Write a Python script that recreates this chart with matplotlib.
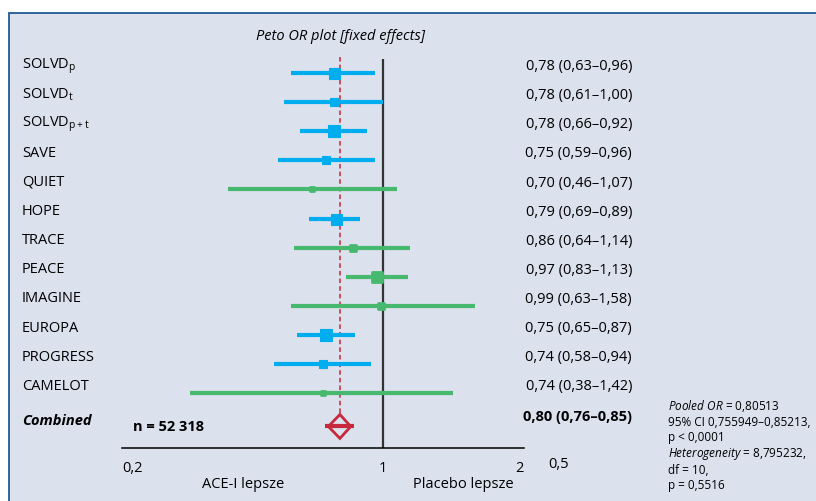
import matplotlib
matplotlib.use("Agg")
import matplotlib.pyplot as plt
import matplotlib.transforms as mtransforms
from matplotlib.patches import Rectangle, Polygon
from matplotlib.markers import MarkerStyle

# study data
studies = ["SOLVD$_{\\mathrm{p}}$", "SOLVD$_{\\mathrm{t}}$", "SOLVD$_{\\mathrm{p+t}}$", "SAVE",
           "QUIET", "HOPE", "TRACE", "PEACE", "IMAGINE", "EUROPA", "PROGRESS", "CAMELOT"]
odds_ratio = [0.78, 0.78, 0.78, 0.75, 0.70, 0.79, 0.86, 0.97, 0.99, 0.75, 0.74, 0.74]
ci_low = [0.63, 0.61, 0.66, 0.59, 0.46, 0.69, 0.64, 0.83, 0.63, 0.65, 0.58, 0.38]
ci_high = [0.96, 1.00, 0.92, 0.96, 1.07, 0.89, 1.14, 1.13, 1.58, 0.87, 0.94, 1.42]
study_group = ["blue", "blue", "blue", "blue", "green", "blue", "green", "green",
               "green", "blue", "blue", "green"]

pooled_or = 0.80513
pooled_shown = 0.80
pooled_low = 0.76
pooled_high = 0.85
n_total = "52 318"

tick_labels = ["0,2", "1", "2"]
stats_lines = ["$\\mathit{Pooled\\ OR}$ = 0,80513",
               "95% CI 0,755949–0,85213,",
               "p < 0,0001",
               "$\\mathit{Heterogeneity}$ = 8,795232,",
               "df = 10,",
               "p = 0,5516"]

# styles
COLORS = {"blue": "#00aeef", "green": "#46b96e"}
RED = "#c8283c"
BG = "#dce1ee"
marker_px = [11, 8, 12, 8, 7, 11, 8, 12, 8, 12, 8, 7]

plt.rcParams["font.family"] = ["Open Sans", "DejaVu Sans"]
plt.rcParams["mathtext.fontset"] = "custom"
plt.rcParams["mathtext.rm"] = "Open Sans"
plt.rcParams["mathtext.it"] = "Open Sans:italic"
plt.rcParams["mathtext.bf"] = "Open Sans:bold"

W, H = 816, 501
fig = plt.figure(figsize=(W / 100, H / 100), dpi=100, facecolor="white")

# panel background with border on top/left
fig.patches.append(Rectangle((9 / W, -0.1), 1.2, (H - 13) / H + 0.1, transform=fig.transFigure,
                             facecolor=BG, edgecolor="#1f5a96", lw=1.3, zorder=-5))

ax = fig.add_axes([122 / W, 1 - 448 / H, 402 / W, 389 / H])
ax.set_zorder(2)
ax.patch.set_visible(False)
ax.set_xscale("log")
x_left, x_right = 0.271, 2.02
ax.set_xlim(x_left, x_right)
combined_row = 12.14
ax.set_ylim(12.88, -0.48)

for sp in ["top", "right", "left"]:
    ax.spines[sp].set_visible(False)
ax.spines["bottom"].set_linewidth(1.1)
ax.set_yticks([])
ax.set_xticks([x_left, 1, 1.97])
ax.set_xticks([], minor=True)
ax.set_xticklabels(tick_labels, fontsize=10.5)
ax.get_xticklabels()[0].set_horizontalalignment("left")
ax.tick_params(axis="x", length=0, pad=9)

# reference line at 1 and pooled dashed line
ax.axvline(1, color="#333333", lw=1.6, zorder=2)
ax.plot([pooled_or, pooled_or], [-0.55, combined_row - 0.42], color=RED, lw=1.1,
        ls=(0, (3, 2)), zorder=2, clip_on=False)

trans = mtransforms.blended_transform_factory(fig.transFigure, ax.transData)

for i, name in enumerate(studies):
    c = COLORS[study_group[i]]
    ax.plot([ci_low[i], ci_high[i]], [i, i], color=c, lw=3, solid_capstyle="butt", zorder=3)
    if study_group[i] == "green":
        # green trials have slightly rounded markers
        ax.plot(odds_ratio[i], i, marker=MarkerStyle("s", joinstyle="round"),
                ms=(marker_px[i] - 2) * 0.72, color=c, mec=c, mew=2, zorder=4)
    else:
        ax.plot(odds_ratio[i], i, marker="s", ms=marker_px[i] * 0.72, color=c,
                mec=c, mew=0.8, zorder=4)
    ax.text(22 / W, i - 0.24, name, transform=trans, fontsize=10.5, va="center", ha="left")
    label = f"{odds_ratio[i]:.2f} ({ci_low[i]:.2f}–{ci_high[i]:.2f})".replace(".", ",")
    ax.text(632 / W, i - 0.22, label, transform=trans, fontsize=10.5, va="center", ha="right")

# combined diamond
ax.plot([pooled_low * 0.985, pooled_high * 1.015], [combined_row, combined_row],
        color=RED, lw=3, solid_capstyle="butt", zorder=4)
diamond = Polygon([(pooled_low, combined_row), (pooled_or, combined_row - 0.41),
                   (pooled_high, combined_row), (pooled_or, combined_row + 0.41)],
                  closed=True, fill=False, edgecolor=RED, lw=2, zorder=4)
ax.add_patch(diamond)

ax.text(22 / W, combined_row - 0.18, "Combined", transform=trans, fontsize=10.5,
        fontweight="bold", fontstyle="italic", va="center")
ax.text(133 / W, combined_row + 0.02, "n = " + n_total, transform=trans, fontsize=10.5,
        fontweight="bold", va="center")
pooled_label = f"{pooled_shown:.2f} ({pooled_low:.2f}–{pooled_high:.2f})".replace(".", ",")
ax.text(632 / W, combined_row - 0.32, pooled_label, transform=trans, fontsize=10.5,
        fontweight="bold", va="center", ha="right")

# titles and side texts
fig.text(341 / W, 1 - 36 / H, "Peto OR plot [fixed effects]", fontsize=10.5,
         fontstyle="italic", ha="center", va="center")
fig.text(548 / W, 1 - 465 / H, "0,5", fontsize=10.5, ha="left", va="center")
fig.text(243 / W, 1 - 484 / H, "ACE-I lepsze", fontsize=10.5, ha="center", va="center")
fig.text(463 / W, 1 - 484 / H, "Placebo lepsze", fontsize=10.5, ha="center", va="center")

for j, line in enumerate(stats_lines):
    fig.text(668 / W, 1 - (406 + j * 16) / H, line, fontsize=8.5, ha="left", va="center")

fig.savefig("out.png", dpi=100, facecolor="white")
